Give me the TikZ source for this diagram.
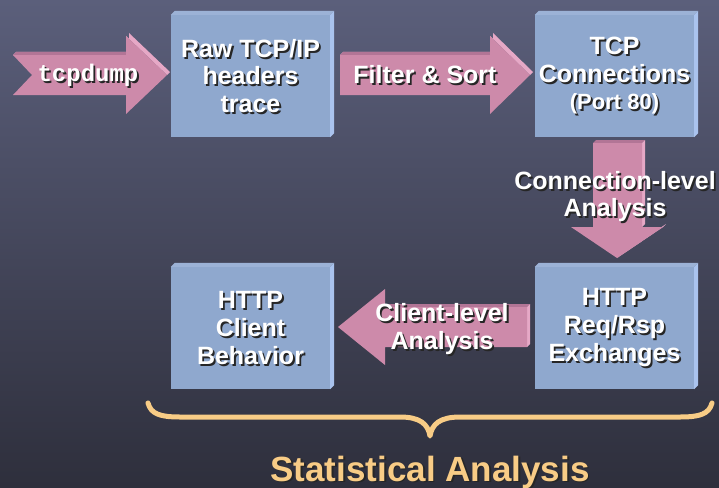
\documentclass[tikz,border=0pt]{standalone}
\usepackage{fontspec}
\setmainfont{Liberation Sans}
\setmonofont{Liberation Mono}
\definecolor{bgtop}{HTML}{5B5F7B}
\definecolor{bgbot}{HTML}{2E2F3C}
\definecolor{boxfront}{HTML}{8FA8CE}
\definecolor{boxtop}{HTML}{9CB2D6}
\definecolor{boxside}{HTML}{AAC3EE}
\definecolor{pinkface}{HTML}{CD8AAA}
\definecolor{pinkdark}{HTML}{B27596}
\definecolor{pinklight}{HTML}{E6A8C6}
\definecolor{gold}{HTML}{F8CC86}
\tikzset{
  boxnode/.style={fill=boxfront, minimum width=159pt, minimum height=122pt, inner sep=0pt},
  txt/.style={text=white, font=\bfseries\fontsize{25}{27.5}\selectfont, align=center, inner sep=0pt},
  txtsh/.style={text=black!85, font=\bfseries\fontsize{25}{27.5}\selectfont, align=center, inner sep=0pt, xshift=1.8pt, yshift=-1.8pt},
  arrowface/.style={fill=pinkface},
  arrowside/.style={fill=pinklight},
  arrowtop/.style={fill=pinkdark},
}
\newcommand{\stxt}[4]{%
  \node[txtsh,#3] at (#2) {#4};
  \node[txt,#3] (#1) at (#2) {#4};}
\newcommand{\tdbox}[2]{% name, center
  \node[boxnode] (#1) at (#2) {};
  \fill[boxtop] (#1.north west) -- ++(4,-4) -- ([shift={(4,-4)}]#1.north east) -- (#1.north east) -- cycle;
  \fill[boxside] (#1.north east) -- ++(4,-4) -- ([shift={(4,-4)}]#1.south east) -- (#1.south east) -- cycle;}
\begin{document}
\begin{tikzpicture}[x=1pt,y=-1pt]
\useasboundingbox (0,0) rectangle (719,487);
\shade[top color=bgtop, bottom color=bgbot] (0,0) rectangle (719,487);

% boxes
\tdbox{b1}{250.5,76}
\tdbox{b2}{614.5,76}
\tdbox{b3}{250.5,328}
\tdbox{b4}{614.5,328}

% tcpdump arrow
\fill[arrowside] (16,52) -- (129,52) -- (129,33) -- (170,72) -- (167,75) -- (126,36) -- (126,55) -- (13,55) -- cycle;
\fill[arrowtop] (13,55) -- (16,52) -- (129,52) -- (126,55) -- cycle;
\fill[arrowface] (13,55) -- (126,55) -- (126,36) -- (167,75) -- (126,114) -- (126,95) -- (13,95) -- (32,75) -- cycle;
\node[text=black!85, font=\ttfamily\bfseries\fontsize{24}{27}\selectfont, inner sep=0pt, xshift=1.8pt, yshift=-1.8pt] at (88,75) {tcpdump};
\node[text=white, font=\ttfamily\bfseries\fontsize{24}{27}\selectfont, inner sep=0pt] (t0) at (88,75) {tcpdump};

% Filter & Sort arrow
\fill[arrowside] (340,55) -- (343,52) -- (493,52) -- (493,33) -- (533,72) -- (530,75) -- (490,36) -- (490,55) -- cycle;
\fill[arrowtop] (340,55) -- (343,52) -- (493,52) -- (490,55) -- cycle;
\fill[arrowface] (340,55) -- (490,55) -- (490,36) -- (530,75) -- (490,114) -- (490,95) -- (340,95) -- cycle;
\stxt{t1}{425,75}{}{Filter \& Sort}

% down arrow
\fill[arrowtop] (593,143) -- (596,140) -- (645,140) -- (642,143) -- cycle;
\fill[arrowside] (642,143) -- (645,140) -- (645,224) -- (642,227) -- cycle;
\fill[arrowside] (663,227) -- (666,224) -- (620,255) -- (617,258) -- cycle;
\fill[arrowface] (593,143) -- (642,143) -- (642,227) -- (663,227) -- (617,258) -- (571,227) -- (593,227) -- cycle;
\stxt{t2}{615,196.5}{}{Connection-level\\Analysis}

% left arrow
\fill[arrowtop] (385,307) -- (388,304) -- (530,304) -- (527,307) -- cycle;
\fill[arrowside] (527,307) -- (530,304) -- (530,344) -- (527,347) -- cycle;
\fill[arrowface] (527,307) -- (385,307) -- (385,289) -- (338,327) -- (385,365) -- (385,347) -- (527,347) -- cycle;
\stxt{t3}{442,329}{font=\bfseries\fontsize{25}{28}\selectfont}{Client-level\\Analysis}

% box texts
\stxt{l1}{b1.center}{}{Raw TCP/IP\\headers\\trace}
\stxt{l2}{614.5,76}{}{TCP\\Connections\\{\fontsize{22}{24}\selectfont (Port 80)}}
\stxt{l3}{b3.center}{font=\bfseries\fontsize{25}{28}\selectfont}{HTTP\\Client\\Behavior}
\stxt{l4}{b4.center}{font=\bfseries\fontsize{25}{28}\selectfont}{HTTP\\Req/Rsp\\Exchanges}

% brace
\draw[gold, line width=5pt, line cap=round, line join=round]
  (148,403) .. controls (151,414) and (160,417) .. (180,417) -- (400,417)
  .. controls (420,417) and (428,424) .. (430,436)
  .. controls (432,424) and (440,417) .. (460,417) -- (680,417)
  .. controls (700,417) and (709,414) .. (712,403);
\node[anchor=base, text=black!85, font=\bfseries\fontsize{35}{40}\selectfont, inner sep=0pt, xshift=1.8pt, yshift=-1.8pt] at (430,481) {Statistical Analysis};
\node[anchor=base, text=gold, font=\bfseries\fontsize{35}{40}\selectfont, inner sep=0pt] (stat) at (430,481) {Statistical Analysis};
\end{tikzpicture}
\end{document}
